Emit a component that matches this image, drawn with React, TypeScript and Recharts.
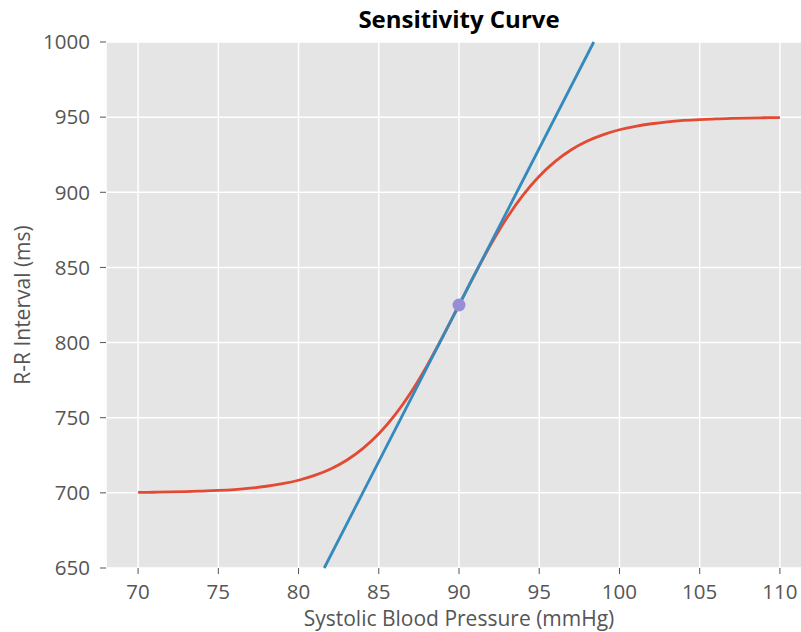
import {
  CartesianGrid,
  ComposedChart,
  Line,
  Scatter,
  XAxis,
  YAxis,
} from 'recharts';

// systolic pressure steps (mmHg) and the baroreflex R-R response (ms)
const pressure = [
  70, 71, 72, 73, 74, 75, 76, 77, 78, 79, 80, 81, 82, 83, 84, 85, 86, 87, 88, 89, 90,
  91, 92, 93, 94, 95, 96, 97, 98, 99, 100, 101, 102, 103, 104, 105, 106, 107, 108, 109, 110,
];
const rrInterval = [
  700.3, 700.4, 700.6, 700.8, 701.2, 701.6, 702.2, 703.1, 704.4, 706.1, 708.4, 711.6, 715.9,
  721.7, 729.4, 739.3, 751.7, 766.8, 784.5, 804.2, 825.0, 845.8, 865.5, 883.2, 898.3, 910.7,
  920.6, 928.3, 934.1, 938.4, 941.6, 943.9, 945.6, 946.9, 947.8, 948.4, 948.8, 949.2, 949.4,
  949.6, 949.7,
];

// tangent at the operating point, clipped to the axes box
const tangentPressure = [81.6, 98.4];
const tangentRr = [650, 1000];

const operatingPressure = [90];
const operatingRr = [825];

const xTicks = [70, 75, 80, 85, 90, 95, 100, 105, 110];
const yTicks = [650, 700, 750, 800, 850, 900, 950, 1000];

const curveData = pressure.map((x, i) => ({ x, y: rrInterval[i] }));
const tangentData = tangentPressure.map((x, i) => ({ x, y: tangentRr[i] }));
const pointData = operatingPressure.map((x, i) => ({ x, y: operatingRr[i] }));

const FONT = '"Open Sans", "DejaVu Sans", sans-serif';
const tickStyle = { fill: '#555555', fontSize: 20.5, fontFamily: FONT };

export default function App() {
  return (
    <div
      style={{
        position: 'fixed',
        left: 0,
        top: 0,
        width: 801,
        height: 632,
        overflow: 'hidden',
        background: '#ffffff',
      }}
    >
      <div
        style={{
          position: 'absolute',
          left: 106,
          width: 706,
          top: 3,
          lineHeight: '32px',
          textAlign: 'center',
          fontFamily: FONT,
          fontWeight: 700,
          fontSize: 24,
          color: '#000000',
        }}
      >
        Sensitivity Curve
      </div>
      <ComposedChart
        width={820}
        height={632}
        margin={{ top: 42, right: 8, left: 0, bottom: 0 }}
        style={{ position: 'absolute', left: 0, top: 0 }}
      >
        <CartesianGrid fill="#E5E5E5" stroke="#ffffff" strokeWidth={1.5} />
        <XAxis
          type="number"
          dataKey="x"
          domain={[68, 112]}
          ticks={xTicks}
          height={64}
          tick={tickStyle}
          tickSize={6}
          tickMargin={10}
          tickLine={{ stroke: '#555555' }}
          axisLine={false}
          label={{
            value: 'Systolic Blood Pressure (mmHg)',
            position: 'insideBottom',
            offset: 6,
            fill: '#555555',
            fontSize: 21,
            fontFamily: FONT,
          }}
        />
        <YAxis
          type="number"
          dataKey="y"
          domain={[650, 1000]}
          ticks={yTicks}
          width={106}
          tick={tickStyle}
          tickSize={6}
          tickMargin={10}
          tickLine={{ stroke: '#555555' }}
          axisLine={false}
          label={{
            value: 'R-R Interval (ms)',
            angle: -90,
            position: 'insideLeft',
            offset: 23,
            fill: '#555555',
            fontSize: 21,
            fontFamily: FONT,
            style: { textAnchor: 'middle' },
          }}
        />
        <Line
          data={curveData}
          dataKey="y"
          type="monotone"
          stroke="#E24A33"
          strokeWidth={2.8}
          dot={false}
          activeDot={false}
          isAnimationActive={false}
        />
        <Line
          data={tangentData}
          dataKey="y"
          type="linear"
          stroke="#348ABD"
          strokeWidth={2.8}
          dot={false}
          activeDot={false}
          isAnimationActive={false}
        />
        <Scatter
          data={pointData}
          dataKey="y"
          isAnimationActive={false}
          shape={(p: any) => <circle cx={p.cx} cy={p.cy} r={6.5} fill="#988ED5" />}
        />
      </ComposedChart>
    </div>
  );
}
